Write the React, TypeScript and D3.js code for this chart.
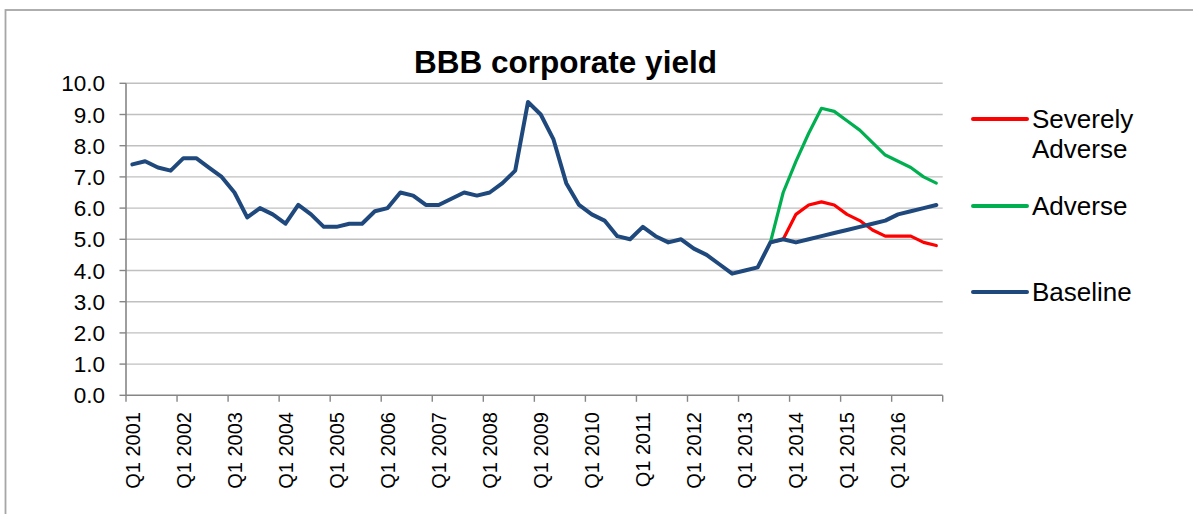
import React from "react";
import * as d3 from "d3";

const years = [2001, 2002, 2003, 2004, 2005, 2006, 2007, 2008, 2009, 2010, 2011, 2012, 2013, 2014, 2015, 2016];
const quarterNames = ["Q1", "Q2", "Q3", "Q4"];
const categories: string[] = years.flatMap((y) => quarterNames.map((q) => `${q} ${y}`));

const baseline = [
  7.4, 7.5, 7.3, 7.2, 7.6, 7.6, 7.3, 7.0, 6.5, 5.7, 6.0, 5.8, 5.5, 6.1, 5.8, 5.4,
  5.4, 5.5, 5.5, 5.9, 6.0, 6.5, 6.4, 6.1, 6.1, 6.3, 6.5, 6.4, 6.5, 6.8, 7.2, 9.4,
  9.0, 8.2, 6.8, 6.1, 5.8, 5.6, 5.1, 5.0, 5.4, 5.1, 4.9, 5.0, 4.7, 4.5, 4.2, 3.9,
  4.0, 4.1, 4.9, 5.0, 4.9, 5.0, 5.1, 5.2, 5.3, 5.4, 5.5, 5.6, 5.8, 5.9, 6.0, 6.1,
];
const scenarioStart = "Q3 2013";
const severelyAdverse = [4.9, 5.0, 5.8, 6.1, 6.2, 6.1, 5.8, 5.6, 5.3, 5.1, 5.1, 5.1, 4.9, 4.8];
const adverse = [4.9, 6.5, 7.5, 8.4, 9.2, 9.1, 8.8, 8.5, 8.1, 7.7, 7.5, 7.3, 7.0, 6.8];
const yTicks = [0, 1, 2, 3, 4, 5, 6, 7, 8, 9, 10];
const labelEvery = 4;

const W = 1193;
const H = 514;
const plot = { left: 126, right: 942.7, top: 83.3, bottom: 395.3 };
const FONT = "'Liberation Sans', Arial, sans-serif";

export default function App() {
  const x = d3.scaleBand<string>().domain(categories).range([plot.left, plot.right]).padding(0);
  const y = d3.scaleLinear().domain([0, 10]).range([plot.bottom, plot.top]);
  const cx = (c: string) => (x(c) as number) + x.bandwidth() / 2;

  const startIdx = categories.indexOf(scenarioStart);
  const seriesPts = (vals: number[], offset: number) =>
    vals.map((v, i) => [cx(categories[i + offset]), y(v)] as [number, number]);
  const line = d3.line<[number, number]>();

  const series = [
    { name: "Severely Adverse", color: "#FF0000", width: 3.2, pts: seriesPts(severelyAdverse, startIdx) },
    { name: "Adverse", color: "#00B050", width: 3.2, pts: seriesPts(adverse, startIdx) },
    { name: "Baseline", color: "#1F497D", width: 4, pts: seriesPts(baseline, 0) },
  ];

  const tickBoundaries = categories
    .map((c, i) => ({ c, i }))
    .filter((d) => d.i % labelEvery === 0)
    .map((d) => x(d.c) as number)
    .concat([plot.right]);

  const legend = [
    { lines: ["Severely", "Adverse"], color: "#FF0000", y: 119 },
    { lines: ["Adverse"], color: "#00B050", y: 206 },
    { lines: ["Baseline"], color: "#1F497D", y: 292 },
  ];

  return (
    <svg
      width={W}
      height={H}
      style={{ position: "absolute", left: 0, top: 0, background: "#fff" }}
      fontFamily={FONT}
    >
      <rect x={0} y={0} width={W} height={H} fill="#fff" />
      <rect x={5.5} y={10} width={1300} height={700} fill="none" stroke="#A6A6A6" strokeWidth={1.8} />

      <text x={565.5} y={73} textAnchor="middle" fontSize={31.5} fontWeight="bold" fill="#000">
        BBB corporate yield
      </text>

      {yTicks.map((t) => (
        <g key={t}>
          {t > 0 && (
            <line x1={plot.left} x2={plot.right} y1={y(t)} y2={y(t)} stroke="#C0C0C0" strokeWidth={1.4} />
          )}
          <line x1={plot.left - 6.5} x2={plot.left} y1={y(t)} y2={y(t)} stroke="#868686" strokeWidth={1.4} />
          <text x={105} y={y(t)} dy="0.36em" textAnchor="end" fontSize={22.5} fill="#000">
            {t.toFixed(1)}
          </text>
        </g>
      ))}

      <line x1={plot.left} x2={plot.left} y1={plot.top} y2={plot.bottom} stroke="#868686" strokeWidth={1.6} />
      <line x1={plot.left} x2={plot.right} y1={plot.bottom} y2={plot.bottom} stroke="#868686" strokeWidth={1.6} />
      {tickBoundaries.map((bx, i) => (
        <line key={i} x1={bx} x2={bx} y1={plot.bottom} y2={plot.bottom + 6.5} stroke="#868686" strokeWidth={1.4} />
      ))}
      {categories
        .filter((_, i) => i % labelEvery === 0)
        .map((c) => (
          <text
            key={c}
            transform={`translate(${cx(c)},${412}) rotate(-90)`}
            textAnchor="end"
            dy="0.36em"
            fontSize={20}
            fill="#000"
          >
            {c}
          </text>
        ))}

      {series.map((s) => (
        <path
          key={s.name}
          d={line(s.pts) || ""}
          fill="none"
          stroke={s.color}
          strokeWidth={s.width}
          strokeLinejoin="round"
          strokeLinecap="round"
        />
      ))}

      {legend.map((l) => (
        <g key={l.lines.join(" ")}>
          <line x1={973} x2={1027} y1={l.y} y2={l.y} stroke={l.color} strokeWidth={4} strokeLinecap="round" />
          {l.lines.map((t, j) => (
            <text key={j} x={1032} y={l.y + j * 30} dy="0.36em" fontSize={26} fill="#000">
              {t}
            </text>
          ))}
        </g>
      ))}
    </svg>
  );
}
